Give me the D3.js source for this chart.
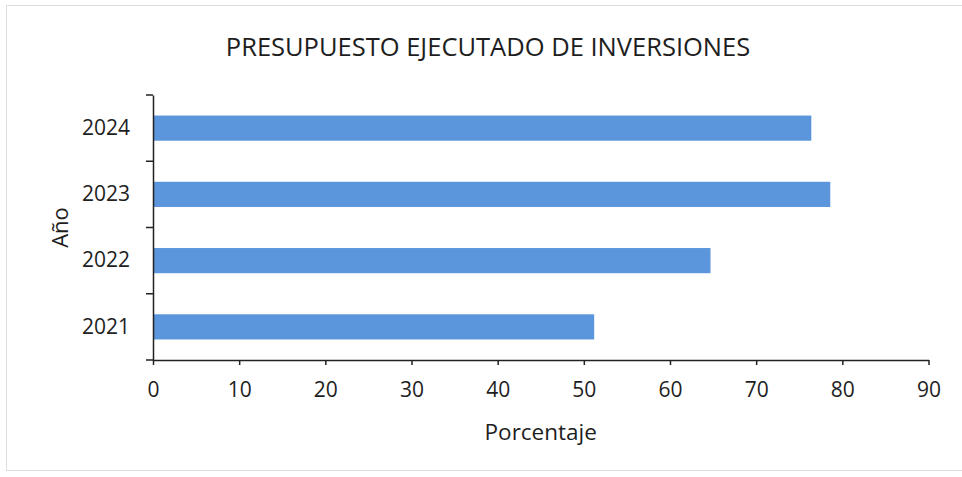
<!DOCTYPE html>
<html>
<head>
<meta charset="utf-8">
<script src="https://cdn.jsdelivr.net/npm/d3@7"></script>
<style>
  body { margin: 0; background: #fff; }
  svg { display: block; }
</style>
</head>
<body>
<svg id="chart"></svg>
<script>
// data
const years = ['2021', '2022', '2023', '2024'];
const percents = [51.2, 64.7, 78.6, 76.4];
const xTicks = [0, 10, 20, 30, 40, 50, 60, 70, 80, 90];

const width = 962;
const height = 477;
const margin = { top: 95, right: 33.5, bottom: 117, left: 153 };
const font = "'Open Sans', sans-serif";

const svg = d3.select('#chart')
    .attr('width', width)
    .attr('height', height)
    .attr('font-family', font);

// faint frame of the chart area
svg.append('rect')
    .attr('x', 6.5).attr('y', 5.5)
    .attr('width', width - 6).attr('height', 465)
    .attr('fill', 'none')
    .attr('stroke', '#dedede');

const x = d3.scaleLinear()
    .domain([0, 90])
    .range([margin.left, width - margin.right]);

const y = d3.scaleBand()
    .domain(years.slice().reverse())
    .range([margin.top, height - margin.bottom])
    .paddingInner(0.62)
    .paddingOuter(0.31);

// bars
svg.append('g')
    .selectAll('rect')
    .data(years.map((d, i) => ({ year: d, value: percents[i] })))
    .join('rect')
    .attr('x', x(0))
    .attr('y', d => y(d.year))
    .attr('width', d => x(d.value) - x(0))
    .attr('height', y.bandwidth())
    .attr('fill', '#5b95db');

// x axis
const xAxis = svg.append('g')
    .attr('transform', `translate(0,${height - margin.bottom})`)
    .call(d3.axisBottom(x).tickValues(xTicks).tickSizeInner(5).tickSizeOuter(0).tickPadding(17));

// y axis: ticks sit on band boundaries, so draw them by hand from the scale
const yAxis = svg.append('g')
    .attr('transform', `translate(${margin.left},0)`)
    .call(d3.axisLeft(y).tickSize(0).tickPadding(23));

const step = y.step();
const bounds = [margin.top].concat(years.map(d => y(d) - step * 0.31 + step));
yAxis.selectAll('line.bound')
    .data(bounds)
    .join('line')
    .attr('class', 'bound')
    .attr('x1', -7).attr('x2', 0)
    .attr('y1', d => d).attr('y2', d => d)
    .attr('stroke', '#222')
    .attr('stroke-width', 1.5);

[xAxis, yAxis].forEach(g => {
    g.select('.domain').attr('stroke', '#222').attr('stroke-width', 1.5);
    g.selectAll('.tick line').attr('stroke', '#222').attr('stroke-width', 1.5);
    g.selectAll('.tick text')
        .attr('font-family', font)
        .attr('font-size', 21)
        .attr('fill', '#1e1e1e');
});

// title and axis titles
svg.append('text')
    .attr('x', 488)
    .attr('y', 56)
    .attr('text-anchor', 'middle')
    .attr('font-size', 25.5)
    .attr('fill', '#1e1e1e')
    .text('PRESUPUESTO EJECUTADO DE INVERSIONES');

svg.append('text')
    .attr('x', (x.range()[0] + x.range()[1]) / 2)
    .attr('y', 440)
    .attr('text-anchor', 'middle')
    .attr('font-size', 22.5)
    .attr('fill', '#1e1e1e')
    .text('Porcentaje');

svg.append('text')
    .attr('transform', `translate(68,${(margin.top + height - margin.bottom) / 2}) rotate(-90)`)
    .attr('text-anchor', 'middle')
    .attr('font-size', 22)
    .attr('fill', '#1e1e1e')
    .text('Año');
</script>
</body>
</html>
